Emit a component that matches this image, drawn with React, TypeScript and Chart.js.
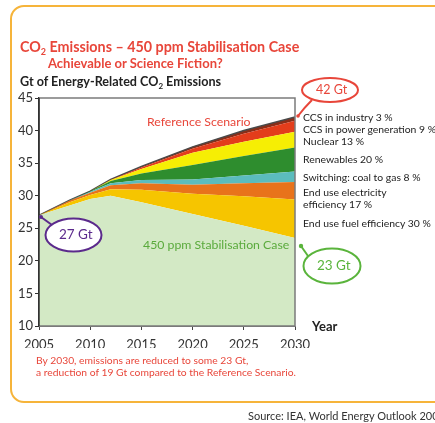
import React, { useEffect, useRef } from "react";
import { Chart, registerables } from "chart.js";
Chart.register(...registerables);

// ---- data ----
const years = [2005, 2008, 2010, 2012, 2015, 2020, 2025, 2030];
const stab450 = [27.0, 28.5, 29.5, 30.0, 29.0, 27.2, 25.4, 23.5];
const fuelEff = [0, 0.5, 0.6, 1.0, 1.9, 3.1, 4.5, 5.9];
const elecEff = [0, 0.25, 0.35, 0.6, 1.0, 1.4, 2.0, 2.7];
const switching = [0, 0.05, 0.15, 0.3, 0.5, 0.8, 1.2, 1.6];
const renewables = [0, 0, 0.1, 0.35, 1.0, 2.2, 3.0, 3.7];
const nuclear = [0, 0, 0, 0.15, 0.7, 1.9, 2.2, 2.4];
const ccsPower = [0, 0, 0, 0.05, 0.25, 0.6, 1.2, 1.7];
const ccsIndustry = [0, 0, 0, 0.05, 0.15, 0.3, 0.5, 0.6];
const yTicks = [10, 15, 20, 25, 30, 35, 40, 45];
const xTicks = [2005, 2010, 2015, 2020, 2025, 2030];

const FONT = "Lato, 'Open Sans', sans-serif";
const RED = "#e8463a";

const wedgeLabels = [
  { t: "CCS in industry 3 %", y: 117 },
  { t: "CCS in power generation 9 %", y: 129 },
  { t: "Nuclear 13 %", y: 141 },
  { t: "Renewables 20 %", y: 159 },
  { t: "Switching: coal to gas 8 %", y: 177 },
  { t: "End use electricity", y: 192 },
  { t: "efficiency  17 %", y: 204 },
  { t: "End use fuel efficiency 30 %", y: 223 },
];

function pts(arr: number[]) {
  return years.map((x, i) => ({ x, y: arr[i] }));
}

export default function App() {
  const ref = useRef<HTMLCanvasElement>(null);
  useEffect(() => {
    if (!ref.current) return;
    const mk = (label: string, arr: number[], color: string, fill: any, border = 0, bcol = "transparent") => ({
      label,
      data: pts(arr),
      backgroundColor: color,
      borderColor: bcol,
      borderWidth: border,
      pointRadius: 0,
      fill,
      tension: 0,
    });
    const boxPlugin = {
      id: "box",
      afterDatasetsDraw(chart: any) {
        const { ctx, chartArea: a } = chart;
        ctx.save();
        ctx.strokeStyle = "#7b7b7b";
        ctx.lineWidth = 1.5;
        ctx.beginPath();
        ctx.moveTo(a.left, a.top);
        ctx.lineTo(a.right, a.top);
        ctx.lineTo(a.right, a.bottom);
        ctx.lineTo(a.left, a.bottom);
        ctx.stroke();
        ctx.strokeStyle = "#333";
        ctx.lineWidth = 1.5;
        ctx.beginPath();
        ctx.moveTo(a.left, a.top);
        ctx.lineTo(a.left, a.bottom);
        ctx.stroke();
        ctx.restore();
      },
    };
    const chart = new Chart(ref.current, {
      type: "line",
      data: {
        datasets: [
          mk("450 ppm Stabilisation Case", stab450, "#d3e9c5", "start"),
          mk("End use fuel efficiency", fuelEff, "#f6c500", "-1"),
          mk("End use electricity efficiency", elecEff, "#e8731b", "-1"),
          mk("Switching: coal to gas", switching, "#5bbcbd", "-1"),
          mk("Renewables", renewables, "#2e8d2e", "-1"),
          mk("Nuclear", nuclear, "#f6ee04", "-1"),
          mk("CCS in power generation", ccsPower, "#e33d1b", "-1"),
          mk("CCS in industry", ccsIndustry, "#8b2e18", "-1", 1.5, "#4a4a4a"),
        ],
      },
      options: {
        animation: false,
        responsive: false,
        maintainAspectRatio: false,
        layout: { padding: { left: 0, right: 140, top: 98, bottom: 75 } },
        plugins: { legend: { display: false }, tooltip: { enabled: false } },
        scales: {
          x: {
            type: "linear",
            min: 2005,
            max: 2030,
            afterBuildTicks: (s: any) => {
              s.ticks = xTicks.map((v) => ({ value: v }));
            },
            ticks: {
              color: "#333",
              font: { size: 13, family: FONT },
              padding: 7,
              maxRotation: 0,
              callback: (v: any) => String(v),
            },
            grid: { drawOnChartArea: false, tickLength: 4, color: "#444" },
            border: { color: "#7b7b7b" },
            afterFit: (s: any) => {
              s.height = 22;
            },
          },
          y: {
            stacked: true,
            min: 10,
            max: 45,
            afterBuildTicks: (s: any) => {
              s.ticks = yTicks.map((v) => ({ value: v }));
            },
            ticks: {
              color: "#333",
              font: { size: 13, family: FONT },
              padding: 2,
              callback: (v: any) => String(v),
            },
            grid: { drawOnChartArea: false, tickLength: 4, color: "#333" },
            border: { color: "#333", width: 1.5 },
            afterFit: (s: any) => {
              s.width = 39;
            },
          },
        },
      },
      plugins: [boxPlugin],
    } as any);
    return () => chart.destroy();
  }, []);

  const abs = (x: number, y: number, extra: any = {}) => ({
    position: "absolute" as const,
    left: x,
    top: y,
    whiteSpace: "nowrap" as const,
    fontFamily: FONT,
    lineHeight: 1,
    ...extra,
  });

  return (
    <div style={{ position: "fixed", left: 0, top: 0, width: 435, height: 423, overflow: "hidden", background: "#fff" }}>
      <div
        style={{
          position: "absolute",
          left: 10,
          top: 5,
          width: 440,
          height: 398,
          border: "2px solid #f6b43a",
          borderRadius: 14,
          boxSizing: "border-box",
        }}
      />
      <canvas ref={ref} width={435} height={423} style={{ position: "absolute", left: 0, top: 0 }} />
      <svg width={435} height={423} style={{ position: "absolute", left: 0, top: 0 }}>
        {/* 42 Gt */}
        <ellipse cx={330} cy={90} rx={28} ry={12} fill="#fff" stroke="#e8463a" strokeWidth={2} />
        <path d="M312,100 Q304,108 298,116" stroke="#e8463a" strokeWidth={2} fill="none" />
        <circle cx={298} cy={116} r={1.8} fill="#e8463a" />
        {/* 27 Gt */}
        <path d="M52,225 L41,217" stroke="#5b2a8c" strokeWidth={2} fill="none" />
        <circle cx={41} cy={217} r={2} fill="#5b2a8c" />
        <ellipse cx={73.5} cy={235} rx={28} ry={16.5} fill="#fff" stroke="#5b2a8c" strokeWidth={2} />
        {/* 23 Gt */}
        <path d="M308,256 L301,246" stroke="#5ab43c" strokeWidth={2} fill="none" />
        <circle cx={301} cy={246} r={2.2} fill="#5ab43c" />
        <ellipse cx={332} cy={266} rx={28.5} ry={17.5} fill="#fff" stroke="#5ab43c" strokeWidth={2} />
      </svg>

      <div style={abs(20, 40, { color: RED, fontSize: 14.3, fontWeight: "bold" })}>
        CO<sub style={{ fontSize: 9, verticalAlign: "-3px" }}>2</sub> Emissions – 450 ppm Stabilisation Case
      </div>
      <div style={abs(48, 57, { color: RED, fontSize: 13, fontWeight: "bold" })}>Achievable or Science Fiction?</div>
      <div style={abs(20, 76, { color: "#222", fontSize: 12.6, fontWeight: "bold" })}>
        Gt of Energy-Related CO<sub style={{ fontSize: 8, verticalAlign: "-3px" }}>2</sub> Emissions
      </div>

      <div style={abs(147, 116, { color: RED, fontSize: 12.3 })}>Reference Scenario</div>
      <div style={abs(143, 239, { color: "#5aaa3c", fontSize: 12.3 })}>450 ppm Stabilisation Case</div>

      <div style={abs(316, 84, { color: RED, fontSize: 12.5 })}>42 Gt</div>
      <div style={abs(59, 228, { color: "#5b2a8c", fontSize: 13.5 })}>27 Gt</div>
      <div style={abs(317, 259, { color: "#5ab43c", fontSize: 13.5 })}>23 Gt</div>

      {wedgeLabels.map((w, i) => (
        <div key={i} style={abs(303, w.y - 5, { color: "#222", fontSize: 10.4 })}>
          {w.t}
        </div>
      ))}

      <div style={abs(312, 320, { color: "#222", fontSize: 13, fontWeight: "bold" })}>Year</div>

      <div style={abs(36, 355, { color: RED, fontSize: 10.3 })}>By 2030, emissions are reduced to some 23 Gt,</div>
      <div style={abs(36, 367, { color: RED, fontSize: 10.3 })}>a reduction of 19 Gt compared to the Reference Scenario.</div>

      <div style={abs(248, 410, { color: "#333", fontSize: 11 })}>Source: IEA, World Energy Outlook 2007</div>
    </div>
  );
}
